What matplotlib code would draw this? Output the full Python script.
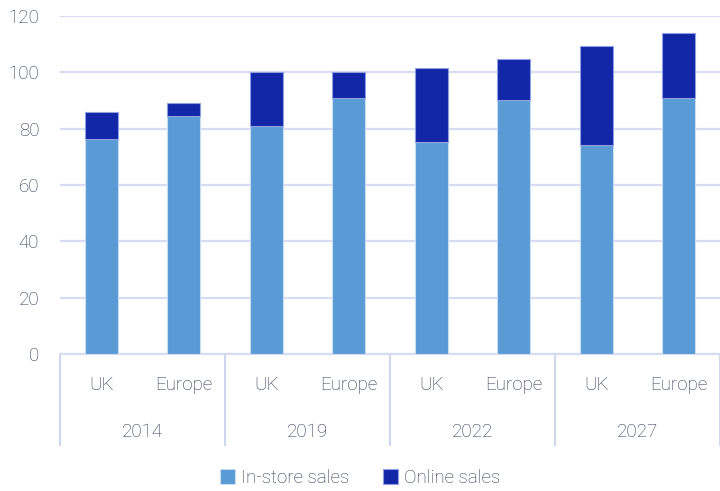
import numpy as np
import matplotlib.pyplot as plt
import matplotlib.transforms as mtransforms

# Sales by year and region
years = ["2014", "2019", "2022", "2027"]
regions = ["UK", "Europe"]
instore = [76.2, 84.5, 80.9, 91.0, 75.2, 90.2, 74.2, 90.8]
online = [9.7, 4.6, 19.2, 9.0, 26.3, 14.6, 35.1, 23.2]

plt.rcParams["font.family"] = ["Roboto", "DejaVu Sans"]
plt.rcParams["font.weight"] = "light"

txt = "#2c3352"
grid_c = "#d6ddf2"
sep_c = "#cdd6ee"

fig = plt.figure(figsize=(7.2, 4.91), dpi=100)
ax = fig.add_axes([60 / 720, 1 - 354 / 491, 660 / 720, 338 / 491])

x = np.arange(len(instore))
ax.bar(x, instore, width=0.4, color="#5b9bd5", edgecolor="#c8dcf2", linewidth=0.8,
       label="In-store sales", zorder=3)
ax.bar(x, online, width=0.4, bottom=instore, color="#1226a8", edgecolor="#8e9ee0",
       linewidth=0.8, label="Online sales", zorder=3)

ax.set_ylim(0, 120)
ax.set_xlim(-0.5, len(instore) - 0.5)
ax.set_yticks(np.arange(0, 121, 20))
ax.yaxis.grid(True, color=grid_c, linewidth=1.6)
ax.set_axisbelow(True)
for s in ["top", "right", "left"]:
    ax.spines[s].set_visible(False)
ax.spines["bottom"].set_color(grid_c)
ax.spines["bottom"].set_linewidth(1.6)
ax.tick_params(axis="y", length=0, pad=15, labelsize=13.5, labelcolor=txt)
ax.tick_params(axis="x", length=0, pad=16, labelsize=13.5, labelcolor=txt)
ax.set_xticks(x)
ax.set_xticklabels(regions * len(years))

trans = mtransforms.blended_transform_factory(ax.transData, ax.transAxes)
for i in range(len(years) + 1):
    bx = i * 2 - 0.5
    ax.plot([bx, bx], [0, -91 / 338], transform=trans, color=sep_c, lw=1.4,
            clip_on=False)
for i, yr in enumerate(years):
    ax.text(i * 2 + 0.5, -78 / 338, yr, transform=trans, ha="center", va="center",
            fontsize=13.5, color=txt)

leg = fig.legend(loc="center", bbox_to_anchor=(0.5, 1 - 478 / 491), ncol=2,
                 frameon=False, fontsize=13.5, handlelength=0.8, handleheight=0.8,
                 handletextpad=0.3, columnspacing=1.8)
for t in leg.get_texts():
    t.set_color(txt)

fig.savefig("out.png", dpi=100)
